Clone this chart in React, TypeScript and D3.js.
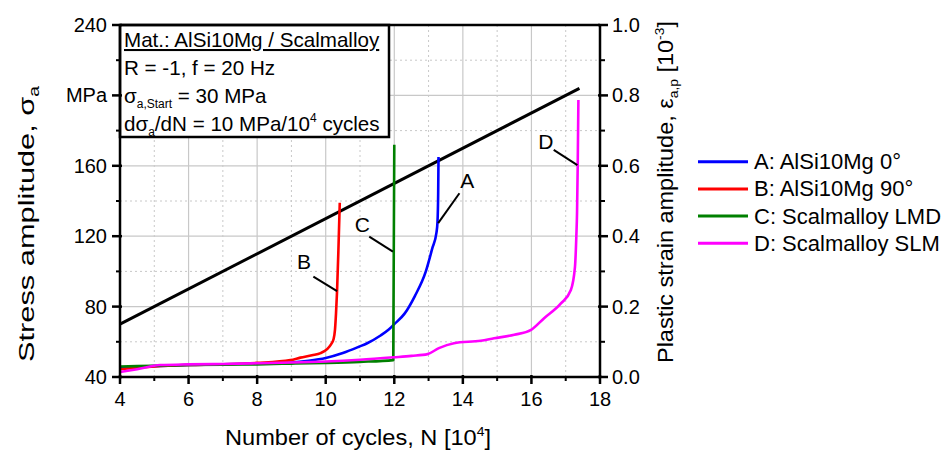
import React from "react";
import * as d3 from "d3";

// ---- data ----
const seriesNames = ["A: AlSi10Mg 0°", "B: AlSi10Mg 90°", "C: Scalmalloy LMD", "D: Scalmalloy SLM"];
const seriesColors = ["#0000ff", "#ff0000", "#008000", "#ff00ff"];

// [N (10^4 cycles), plastic strain amplitude (10^-3)]
const seriesA: [number, number][] = [
  [4, 0.027], [5, 0.031], [6, 0.034], [7, 0.036], [8, 0.038], [9, 0.041], [9.5, 0.046], [10, 0.054],
  [10.5, 0.068], [10.97, 0.086], [11.21, 0.096], [11.6, 0.118], [11.83, 0.134], [12.0, 0.15],
  [12.3, 0.18], [12.6, 0.23], [12.92, 0.30], [13.11, 0.366], [13.23, 0.41], [13.26, 0.44],
  [13.28, 0.52], [13.29, 0.625],
];
const seriesB: [number, number][] = [
  [4, 0.022], [5, 0.030], [6, 0.034], [7, 0.036], [8, 0.040], [8.97, 0.048], [9.26, 0.055],
  [9.6, 0.062], [9.85, 0.068], [10.05, 0.08], [10.15, 0.092], [10.23, 0.108], [10.27, 0.134],
  [10.3, 0.18], [10.33, 0.242], [10.37, 0.36], [10.41, 0.495],
];
const seriesC: [number, number][] = [
  [4, 0.030], [5, 0.032], [6, 0.034], [7, 0.035], [8, 0.036], [9, 0.038], [10, 0.040], [11, 0.043],
  [11.97, 0.048], [12.0, 0.66],
];
const seriesD: [number, number][] = [
  [4, 0.014], [4.5, 0.022], [5.17, 0.034], [6, 0.036], [7, 0.037], [8, 0.039], [9, 0.041],
  [10, 0.044], [11, 0.049], [11.99, 0.056], [12.5, 0.060], [12.97, 0.065], [13.3, 0.082],
  [13.74, 0.096], [14.52, 0.103], [14.91, 0.110], [15.5, 0.120], [15.99, 0.134], [16.37, 0.167],
  [16.86, 0.209], [17.15, 0.247], [17.27, 0.313], [17.31, 0.40], [17.33, 0.466], [17.35, 0.6],
  [17.37, 0.787],
];
const allSeries = [seriesA, seriesB, seriesC, seriesD];

// stress ramp [N, MPa]
const stressRamp: [number, number][] = [[4, 70], [17.4, 204]];

const xTicks = [4, 6, 8, 10, 12, 14, 16, 18];
const xMinor = [5, 7, 9, 11, 13, 15, 17];
const yLeftTicks = [40, 80, 120, 160, 200, 240];
const yLeftLabels = ["40", "80", "120", "160", "MPa", "240"];
const yLeftMinor = [60, 100, 140, 180, 220];
const yRightTicks = [0, 0.2, 0.4, 0.6, 0.8, 1.0];
const yRightMinor = [0.1, 0.3, 0.5, 0.7, 0.9];

// curve labels: [label, textN, textStrain, fromN, fromStrain, toN, toStrain]
const curveLabels: [string, number, number, number, number, number, number][] = [
  ["A", 14.13, 0.537, 13.9, 0.522, 13.28, 0.437],
  ["B", 9.37, 0.307, 9.64, 0.285, 10.33, 0.244],
  ["C", 11.07, 0.412, 11.27, 0.399, 11.96, 0.356],
  ["D", 16.42, 0.648, 16.65, 0.645, 17.34, 0.602],
];

const FONT = "Arial, 'Liberation Sans', sans-serif";

export default function App() {
  const W = 946, H = 452;
  const left = 120, right = 600, top = 25, bottom = 377;
  const x = d3.scaleLinear().domain([4, 18]).range([left, right]);
  const yL = d3.scaleLinear().domain([40, 240]).range([bottom, top]);
  const yR = d3.scaleLinear().domain([0, 1]).range([bottom, top]);

  const line = d3.line<[number, number]>().x(d => x(d[0])).y(d => yR(d[1])).curve(d3.curveMonotoneX);
  const stressLine = d3.line<[number, number]>().x(d => x(d[0])).y(d => yL(d[1]));

  const fs = 20;
  const bfs = 20.6;
  const legendX = 698, legendY0 = 161.7, legendDy = 27.2;

  return (
    <svg width={W} height={H} style={{ position: "absolute", left: 0, top: 0, background: "#fff" }} fontFamily={FONT}>
      <rect x={0} y={0} width={W} height={H} fill="#fff" />
      {/* grid */}
      <g>
        {xTicks.slice(1, -1).map(t => (
          <line key={"gx" + t} x1={x(t)} x2={x(t)} y1={top} y2={bottom} stroke="#c8c8c8" strokeWidth={1.2} />
        ))}
        {xMinor.map(t => (
          <line key={"gxm" + t} x1={x(t)} x2={x(t)} y1={top} y2={bottom} stroke="#c8c8c8" strokeWidth={1} strokeDasharray="2,3" />
        ))}
        {yLeftTicks.slice(1, -1).map(t => (
          <line key={"gy" + t} x1={left} x2={right} y1={yL(t)} y2={yL(t)} stroke="#c8c8c8" strokeWidth={1.2} />
        ))}
        {yLeftMinor.map(t => (
          <line key={"gym" + t} x1={left} x2={right} y1={yL(t)} y2={yL(t)} stroke="#c8c8c8" strokeWidth={1} strokeDasharray="2,3" />
        ))}
      </g>

      {/* stress ramp */}
      <path d={stressLine(stressRamp) || ""} fill="none" stroke="#000" strokeWidth={3} />

      {/* series */}
      {allSeries.map((s, i) => (
        <path key={"s" + i} d={line(s) || ""} fill="none" stroke={seriesColors[i]} strokeWidth={2.6} strokeLinejoin="round" />
      ))}

      {/* curve labels */}
      {curveLabels.map(c => (
        <g key={"cl" + c[0]}>
          <line x1={x(c[3])} y1={yR(c[4])} x2={x(c[5])} y2={yR(c[6])} stroke="#000" strokeWidth={2} />
          <text x={x(c[1])} y={yR(c[2])} fontSize={21} textAnchor="middle">{c[0]}</text>
        </g>
      ))}

      {/* annotation box */}
      <rect x={left} y={top} width={269} height={112} fill="#fff" stroke="#000" strokeWidth={2.5} />
      <text x={124} y={47} fontSize={bfs} textDecoration="underline">Mat.: AlSi10Mg / Scalmalloy</text>
      <text x={124} y={75} fontSize={bfs}>R = -1, f = 20 Hz</text>
      <text x={124} y={103} fontSize={bfs}>
        σ<tspan fontSize={12} dy={5}>a,Start</tspan><tspan dy={-5}> = 30 MPa</tspan>
      </text>
      <text x={124} y={131} fontSize={bfs}>
        dσ<tspan fontSize={12} dy={5}>a</tspan><tspan dy={-5}>/dN = 10 MPa/10</tspan>
        <tspan fontSize={12} dy={-9}>4</tspan><tspan dy={9}> cycles</tspan>
      </text>

      {/* axes frame */}
      <line x1={left} x2={right} y1={top} y2={top} stroke="#000" strokeWidth={2.5} />
      <line x1={left} x2={right} y1={bottom} y2={bottom} stroke="#000" strokeWidth={2.5} />
      <line x1={left} x2={left} y1={top} y2={bottom} stroke="#000" strokeWidth={2.5} />
      <line x1={right} x2={right} y1={top} y2={bottom} stroke="#000" strokeWidth={2.5} />

      {/* bottom ticks */}
      {xTicks.map(t => (
        <g key={"xt" + t}>
          <line x1={x(t)} x2={x(t)} y1={bottom - 2} y2={bottom + 7} stroke="#000" strokeWidth={2.5} />
          <text x={x(t)} y={406} fontSize={fs} textAnchor="middle">{t}</text>
        </g>
      ))}
      {xMinor.map(t => (
        <line key={"xm" + t} x1={x(t)} x2={x(t)} y1={bottom} y2={bottom + 4} stroke="#000" strokeWidth={2} />
      ))}

      {/* left ticks */}
      {yLeftTicks.map((t, i) => (
        <g key={"yl" + t}>
          <line x1={left - 8} x2={left + 2} y1={yL(t)} y2={yL(t)} stroke="#000" strokeWidth={2.5} />
          <text x={107} y={yL(t)} fontSize={fs} textAnchor="end" dominantBaseline="central">{yLeftLabels[i]}</text>
        </g>
      ))}
      {yLeftMinor.map(t => (
        <line key={"ylm" + t} x1={left - 4} x2={left} y1={yL(t)} y2={yL(t)} stroke="#000" strokeWidth={2} />
      ))}

      {/* right ticks */}
      {yRightTicks.map(t => (
        <g key={"yr" + t}>
          <line x1={right - 2} x2={right + 8} y1={yR(t)} y2={yR(t)} stroke="#000" strokeWidth={2.5} />
          <text x={612} y={yR(t)} fontSize={fs} textAnchor="start" dominantBaseline="central">{t.toFixed(1)}</text>
        </g>
      ))}
      {yRightMinor.map(t => (
        <line key={"yrm" + t} x1={right} x2={right + 5} y1={yR(t)} y2={yR(t)} stroke="#000" strokeWidth={2} />
      ))}

      {/* axis titles */}
      <text x={225} y={445} fontSize={22} textLength={266} lengthAdjust="spacingAndGlyphs">
        Number of cycles, N [10<tspan fontSize={13} dy={-9}>4</tspan><tspan dy={9}>]</tspan>
      </text>
      <text transform={`translate(34,362) rotate(-90)`} fontSize={22.5} textLength={276} lengthAdjust="spacingAndGlyphs">
        Stress amplitude, σ<tspan fontSize={14} dy={5}>a</tspan>
      </text>
      <text transform={`translate(673,363) rotate(-90)`} fontSize={22} textLength={342} lengthAdjust="spacingAndGlyphs">
        Plastic strain amplitude, ε<tspan fontSize={13} dy={5}>a,p</tspan><tspan dy={-5}> [10</tspan>
        <tspan fontSize={13} dy={-9}>-3</tspan><tspan dy={9}>]</tspan>
      </text>

      {/* legend */}
      {seriesNames.map((n, i) => (
        <g key={"lg" + i}>
          <line x1={legendX} x2={legendX + 50} y1={legendY0 + i * legendDy} y2={legendY0 + i * legendDy} stroke={seriesColors[i]} strokeWidth={3} />
          <text x={754} y={legendY0 + i * legendDy} fontSize={22} dominantBaseline="central">{n}</text>
        </g>
      ))}
    </svg>
  );
}
